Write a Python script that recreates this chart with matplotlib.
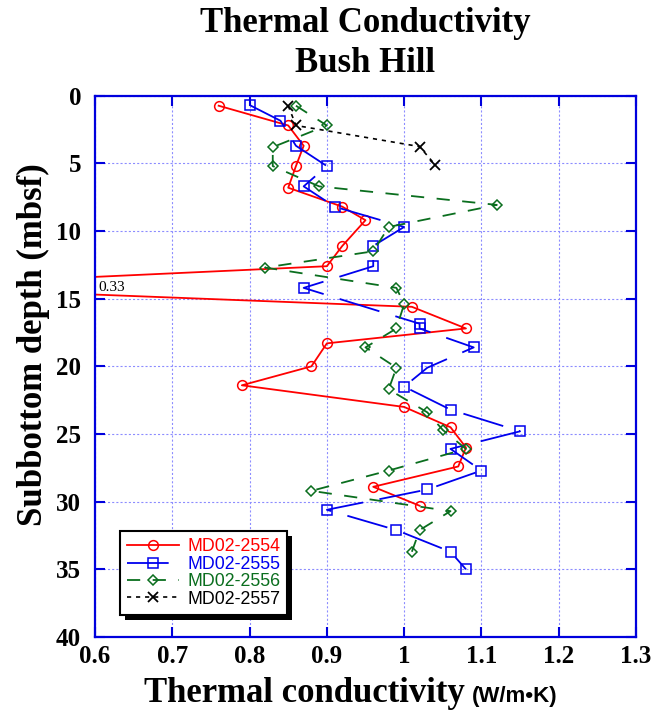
import matplotlib
matplotlib.use("Agg")
import matplotlib.pyplot as plt
from matplotlib.patches import Rectangle
from matplotlib.transforms import IdentityTransform

plt.rcParams['lines.scale_dashes'] = False

# ---- data ----
depth_2554 = [0.74, 2.2, 3.7, 5.2, 6.8, 8.2, 9.2, 11.1, 12.6, 14.1, 15.6, 17.2, 18.3,
              20.0, 21.4, 23.0, 24.5, 26.0, 27.4, 28.9, 30.3]
k_2554 = [0.76, 0.85, 0.87, 0.86, 0.85, 0.92, 0.95, 0.92, 0.90, 0.33, 1.01, 1.08, 0.90,
          0.88, 0.79, 1.00, 1.06, 1.08, 1.07, 0.96, 1.02]

depth_2555 = [0.69, 1.85, 3.7, 5.2, 6.7, 8.2, 9.7, 11.1, 12.6, 14.2, 16.85, 17.2, 18.6,
              20.1, 21.5, 23.2, 24.8, 26.1, 27.7, 29.1, 30.6, 32.1, 33.7, 35.0]
k_2555 = [0.80, 0.84, 0.86, 0.90, 0.87, 0.91, 1.00, 0.96, 0.96, 0.87, 1.02, 1.02, 1.09,
          1.03, 1.00, 1.06, 1.15, 1.06, 1.10, 1.03, 0.90, 0.99, 1.06, 1.08]

depth_2556 = [0.74, 2.2, 3.8, 5.2, 6.7, 8.07, 9.7, 11.5, 12.7, 14.2, 15.4, 17.2, 18.6,
              20.1, 21.7, 23.4, 24.7, 26.1, 27.7, 29.2, 30.7, 32.1, 33.7]
k_2556 = [0.86, 0.90, 0.83, 0.83, 0.89, 1.12, 0.98, 0.96, 0.82, 0.99, 1.00, 0.99, 0.95,
          0.99, 0.98, 1.03, 1.05, 1.08, 0.98, 0.88, 1.06, 1.02, 1.01]

depth_2557 = [0.74, 2.2, 3.76, 5.1]
k_2557 = [0.85, 0.86, 1.02, 1.04]

series_labels = ["MD02-2554", "MD02-2555", "MD02-2556", "MD02-2557"]
x_ticks = [0.6, 0.7, 0.8, 0.9, 1.0, 1.1, 1.2, 1.3]
x_tick_labels = ["0.6", "0.7", "0.8", "0.9", "1", "1.1", "1.2", "1.3"]
y_ticks = [0, 5, 10, 15, 20, 25, 30, 35, 40]
outlier_label = "0.33"

# ---- style ----
RED = '#ff0000'
BLUE = '#0000ee'
GREEN = '#0a6e1e'
BLACK = '#000000'
FRAME = '#0000dd'
SERIF = 'Liberation Serif'
SANS = 'Liberation Sans'

W, H = 669, 724
fig = plt.figure(figsize=(W / 100, H / 100), dpi=100)
L, R, T, B = 95, 636, 95.7, 637
ax = fig.add_axes([L / W, 1 - B / H, (R - L) / W, (B - T) / H])

l1, = ax.plot(k_2554, depth_2554, color=RED, lw=1.3, marker='o', ms=7,
              mfc='none', mec=RED, mew=1.1, label=series_labels[0])
l2, = ax.plot(k_2555, depth_2555, color=BLUE, lw=1.3, marker='s', ms=7,
              mfc='none', mec=BLUE, mew=1.1, dashes=(30, 12), label=series_labels[1])
l3, = ax.plot(k_2556, depth_2556, color=GREEN, lw=1.3, marker='D', ms=5.5,
              mfc='none', mec=GREEN, mew=1.1, dashes=(9.5, 9), label=series_labels[2])
l4, = ax.plot(k_2557, depth_2557, color=BLACK, lw=1.2, marker='x', ms=7.5,
              mec=BLACK, mew=1.3, dashes=(3, 3.5), label=series_labels[3])

ax.set_xlim(0.6, 1.3)
ax.set_ylim(40, 0)
ax.set_xticks(x_ticks)
ax.set_xticklabels(x_tick_labels)
ax.set_yticks(y_ticks)

ax.grid(True, color='#8c8cff', linestyle=(0, (1.5, 1.5)), linewidth=0.8)
ax.set_axisbelow(True)

for s in ax.spines.values():
    s.set_color(FRAME)
    s.set_linewidth(1.6)

ax.tick_params(axis='both', direction='in', length=7, width=1.5, color=FRAME,
               top=True, right=True, labelsize=18)
ax.tick_params(axis='x', pad=6)
ax.tick_params(axis='y', pad=10)
for lab in ax.get_xticklabels() + ax.get_yticklabels():
    lab.set_fontfamily(SERIF)
    lab.set_fontweight('bold')

# outlier annotation
ax.text(0.604, 14.2, outlier_label, fontsize=11, family=SERIF, va='center', ha='left')

# titles
fig.text(365 / W, 1 - 23 / H, "Thermal Conductivity", ha='center', va='center',
         fontsize=25, fontweight='bold', family=SERIF)
fig.text(365 / W, 1 - 63 / H, "Bush Hill", ha='center', va='center',
         fontsize=25, fontweight='bold', family=SERIF)

# axis labels
fig.text(33 / W, 1 - 345 / H, "Subbottom depth (mbsf)", ha='center', va='center',
         rotation=90, fontsize=25, fontweight='bold', family=SERIF)
fig.text(465 / W, 1 - 702 / H, "Thermal conductivity", ha='right', va='baseline',
         fontsize=25, fontweight='bold', family=SERIF)
fig.text(472 / W, 1 - 702 / H, "(W/m\u2022K)", ha='left', va='baseline',
         fontsize=16, fontweight='bold', family=SANS)

# legend
leg = ax.legend(handles=[l1, l2, l3, l4], loc='upper left',
                bbox_to_anchor=((120 - L) / (R - L), 1 - (531 - T) / (B - T)),
                borderaxespad=0, frameon=True, fancybox=False, framealpha=1,
                facecolor='white',
                prop={'family': SANS, 'size': 12.8}, handlelength=2.9,
                labelspacing=0.02, handletextpad=0.45, borderpad=0.42)
leg.get_frame().set_edgecolor('black')
leg.get_frame().set_linewidth(1.5)
for txt, c in zip(leg.get_texts(), [RED, BLUE, GREEN, BLACK]):
    txt.set_color(c)

fig.canvas.draw()
bb = leg.get_frame().get_window_extent()
shadow = Rectangle((bb.x0 + 5, bb.y0 - 5), bb.width, bb.height, transform=IdentityTransform(),
                   facecolor='black', edgecolor='none', zorder=4.9, clip_on=False)
ax.add_artist(shadow)

fig.savefig("out.png", dpi=100)
